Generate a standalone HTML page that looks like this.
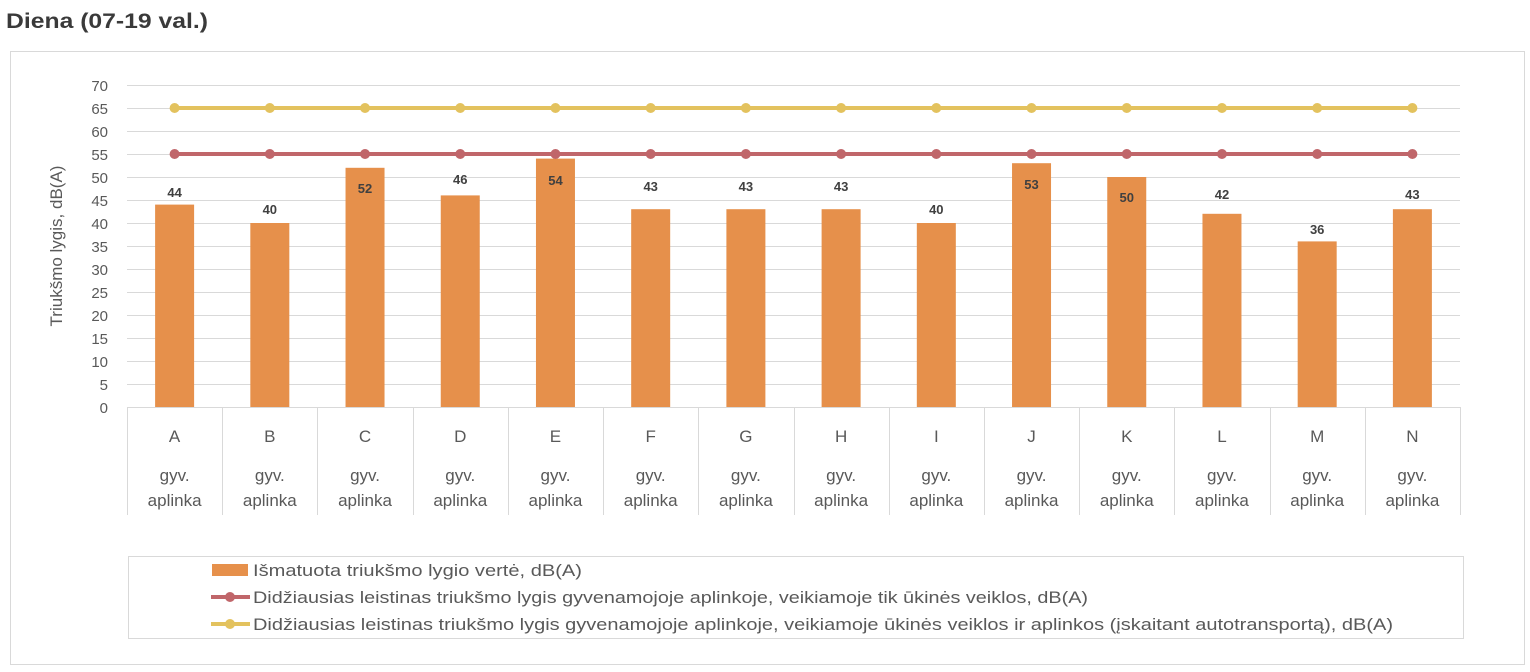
<!DOCTYPE html>
<html><head><meta charset="utf-8"><style>
body{margin:0;background:#fff;}
svg{display:block;font-family:"Liberation Sans",sans-serif;}
</style></head><body>
<svg width="1530" height="672" xmlns="http://www.w3.org/2000/svg">
<text x="6" y="28" font-size="21" font-weight="bold" fill="#3a3a3a" textLength="202" lengthAdjust="spacingAndGlyphs">Diena (07-19 val.)</text>
<rect x="10.5" y="51.5" width="1514" height="613" fill="#fff" stroke="#d9d9d9"/>
<g stroke="#d9d9d9" stroke-width="1">
<line x1="127" x2="1460" y1="85.5" y2="85.5"/><line x1="127" x2="1460" y1="108.5" y2="108.5"/>
<line x1="127" x2="1460" y1="131.5" y2="131.5"/><line x1="127" x2="1460" y1="154.5" y2="154.5"/>
<line x1="127" x2="1460" y1="177.5" y2="177.5"/><line x1="127" x2="1460" y1="200.5" y2="200.5"/>
<line x1="127" x2="1460" y1="223.5" y2="223.5"/><line x1="127" x2="1460" y1="246.5" y2="246.5"/>
<line x1="127" x2="1460" y1="269.5" y2="269.5"/><line x1="127" x2="1460" y1="292.5" y2="292.5"/>
<line x1="127" x2="1460" y1="315.5" y2="315.5"/><line x1="127" x2="1460" y1="338.5" y2="338.5"/>
<line x1="127" x2="1460" y1="361.5" y2="361.5"/><line x1="127" x2="1460" y1="384.5" y2="384.5"/>
<line x1="127" x2="1460" y1="407.5" y2="407.5"/>
</g>
<g font-size="15" fill="#595959" text-anchor="end">
<text x="108" y="91">70</text><text x="108" y="114">65</text><text x="108" y="137">60</text>
<text x="108" y="160">55</text><text x="108" y="183">50</text><text x="108" y="206">45</text>
<text x="108" y="229">40</text><text x="108" y="252">35</text><text x="108" y="275">30</text>
<text x="108" y="298">25</text><text x="108" y="321">20</text><text x="108" y="344">15</text>
<text x="108" y="367">10</text><text x="108" y="390">5</text><text x="108" y="413">0</text>
</g>
<text transform="translate(62,246) rotate(-90)" font-size="17" fill="#595959" text-anchor="middle">Triukšmo lygis, dB(A)</text>
<g id="bars" fill="#E6904B"></g>
<g id="tbl" stroke="#d9d9d9"></g>
<g id="lines"></g>
<g id="labels"></g>
<rect x="128.5" y="556.5" width="1335" height="82" fill="none" stroke="#d9d9d9"/>
<rect x="212" y="564" width="36" height="12" fill="#E6904B"/>
<line x1="211" x2="250" y1="597" y2="597" stroke="#C0666A" stroke-width="4"/><circle cx="230" cy="597" r="5" fill="#C0666A"/>
<line x1="211" x2="250" y1="624" y2="624" stroke="#E3C25E" stroke-width="4"/><circle cx="230" cy="624" r="5" fill="#E3C25E"/>
<g font-size="17" fill="#595959" lengthAdjust="spacingAndGlyphs">
<text x="253" y="576" textLength="329" lengthAdjust="spacingAndGlyphs">Išmatuota triukšmo lygio vertė, dB(A)</text>
<text x="253" y="603" textLength="835" lengthAdjust="spacingAndGlyphs">Didžiausias leistinas triukšmo lygis gyvenamojoje aplinkoje, veikiamoje tik ūkinės veiklos,  dB(A)</text>
<text x="253" y="630" textLength="1140" lengthAdjust="spacingAndGlyphs">Didžiausias leistinas triukšmo lygis gyvenamojoje aplinkoje, veikiamoje ūkinės veiklos ir aplinkos (įskaitant autotransportą),  dB(A)</text>
</g>
<script>
var vals=[44,40,52,46,54,43,43,43,40,53,50,42,36,43];
var ly=[192,209,188,179,180,186,186,186,209,184,197,194,229,194];
var cats="ABCDEFGHIJKLMN";
var x0=127,w=1333/14,ns="http://www.w3.org/2000/svg";
function el(p,t,a,tx){var e=document.createElementNS(ns,t);for(var k in a)e.setAttribute(k,a[k]);if(tx)e.textContent=tx;document.getElementById(p).appendChild(e);}
var r="",y="";
for(var i=0;i<14;i++){var c=x0+w*(i+0.5);var h=vals[i]*4.6;
el("bars","rect",{x:c-19.5,y:407-h,width:39,height:h});
el("labels","text",{x:c,y:ly[i]+5,"font-size":13,"font-weight":"bold",fill:"#404040","text-anchor":"middle"},vals[i]);
el("labels","text",{x:c,y:442,"font-size":17,fill:"#595959","text-anchor":"middle"},cats[i]);
el("labels","text",{x:c,y:481,"font-size":17,fill:"#595959","text-anchor":"middle"},"gyv.");
el("labels","text",{x:c,y:506,"font-size":17,fill:"#595959","text-anchor":"middle"},"aplinka");
r+=(i?"L":"M")+c+" 154";y+=(i?"L":"M")+c+" 108";}
for(var i=0;i<=14;i++){var xx=Math.round(x0+w*i)+0.5;el("tbl","line",{x1:xx,x2:xx,y1:407,y2:515});}
el("lines","path",{d:y,stroke:"#E3C25E","stroke-width":4,fill:"none"});
el("lines","path",{d:r,stroke:"#C0666A","stroke-width":4,fill:"none"});
for(var i=0;i<14;i++){var c=x0+w*(i+0.5);
el("lines","circle",{cx:c,cy:108,r:5,fill:"#E3C25E"});el("lines","circle",{cx:c,cy:154,r:5,fill:"#C0666A"});}
</script>
</svg>
</body></html>
